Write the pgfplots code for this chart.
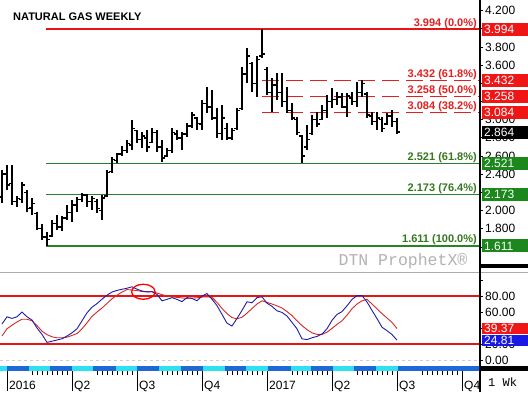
\documentclass[border=0pt]{standalone}
\usepackage{pgfplots}
\pgfplotsset{compat=1.18}
\usepackage{pgfplotstable}
\usepackage{fontspec}
\setmainfont{Liberation Sans}
\newfontfamily\monofont{Liberation Mono}

\definecolor{boxred}{RGB}{240,22,22}
\definecolor{fibred}{RGB}{226,32,32}
\definecolor{linered}{RGB}{232,20,20}
\definecolor{fibgreen}{RGB}{55,120,30}
\definecolor{linegreen}{RGB}{40,130,40}
\definecolor{boxgreen}{RGB}{28,135,28}
\definecolor{stochblue}{RGB}{30,30,165}
\definecolor{stochred}{RGB}{215,40,40}
\definecolor{boxblue}{RGB}{25,25,230}
\definecolor{bandblue}{RGB}{30,105,215}
\definecolor{bandcyan}{RGB}{45,225,240}
\definecolor{wmgray}{RGB}{178,178,178}

\pgfdeclareplotmark{otick}{\pgfpathmoveto{\pgfqpoint{-3pt}{0pt}}\pgfpathlineto{\pgfqpoint{0pt}{0pt}}\pgfusepathqstroke}
\pgfdeclareplotmark{ctick}{\pgfpathmoveto{\pgfqpoint{0pt}{0pt}}\pgfpathlineto{\pgfqpoint{3pt}{0pt}}\pgfusepathqstroke}

\pgfplotstableread{
k O H L C K D
0 2.15 2.446 2.083 2.40 45 30
1 2.40 2.500 2.226 2.28 54 39
2 2.30 2.500 2.061 2.10 52 43.5
3 2.10 2.160 2.039 2.13 54 47.5
4 2.12 2.314 2.083 2.28 60 51
5 2.20 2.226 1.984 2.02 54 51
6 2.03 2.138 1.951 2.08 50 49
7 1.97 1.984 1.786 1.80 40 43
8 1.80 1.852 1.676 1.71 32 36
9 1.71 1.764 1.611 1.68 22 31.8
10 1.72 1.896 1.709 1.86 23.5 29
11 1.86 1.951 1.786 1.82 25 27.8
12 1.82 1.940 1.775 1.92 26.5 27.8
13 1.92 2.061 1.896 1.98 30 28.5
14 1.98 2.116 1.874 2.06 34 30.7
15 2.06 2.149 1.984 2.12 39 33
16 2.12 2.193 2.094 2.17 49 39
17 2.17 2.182 2.039 2.10 59 46.5
18 2.10 2.160 2.006 2.13 66 54.5
19 2.10 2.127 1.973 2.02 70.5 60
20 2.00 2.171 1.896 2.14 76 65
21 2.16 2.446 2.149 2.42 81 70.7
22 2.43 2.589 2.413 2.56 85 76.5
23 2.55 2.633 2.523 2.62 87 81
24 2.62 2.710 2.600 2.66 88.4 85
25 2.66 2.776 2.633 2.74 89.7 88
26 2.72 2.996 2.666 2.90 91.5 87.5
27 2.88 2.886 2.743 2.78 88.5 86.7
28 2.78 2.864 2.688 2.82 86.3 85.6
29 2.80 2.886 2.644 2.70 85 85.4
30 2.75 2.908 2.743 2.86 85.4 85.4
31 2.86 2.886 2.644 2.70 82 83.7
32 2.70 2.776 2.534 2.58 74 81.7
33 2.60 2.688 2.589 2.66 75.8 80
34 2.66 2.908 2.633 2.86 78 79
35 2.84 2.886 2.776 2.80 75.8 78.3
36 2.80 2.864 2.666 2.84 73 77.6
37 2.84 2.963 2.809 2.93 78 77
38 2.93 3.084 2.908 3.05 77 77.4
39 3.02 3.029 2.886 2.96 74 77.8
40 2.95 3.216 2.886 3.18 80 78.6
41 3.18 3.359 3.073 3.14 83 79
42 3.14 3.326 2.996 3.02 76 78.3
43 3.02 3.128 2.798 2.85 68 72
44 2.85 3.161 2.776 3.02 57 64.5
45 2.90 2.963 2.776 2.80 46 58
46 2.80 2.908 2.776 2.88 42.5 53
47 2.90 3.128 2.886 3.10 52 51.5
48 3.12 3.579 3.106 3.50 62 53.5
49 3.50 3.788 3.403 3.70 72.8 58.5
50 3.62 3.634 3.304 3.40 71.5 64.4
51 3.40 3.700 3.249 3.66 78 70
52 3.70 3.994 3.678 3.72 79 74
53 3.55 3.579 3.271 3.30 71 72
54 3.30 3.458 3.084 3.38 67 70
55 3.38 3.513 3.216 3.30 61.5 67.7
56 3.30 3.513 3.139 3.20 59.5 65
57 3.20 3.359 3.073 3.10 55 60.5
58 3.10 3.183 2.996 3.02 47 55.5
59 3.00 3.029 2.831 2.86 39 49
60 2.82 2.831 2.523 2.60 26.5 43
61 2.70 2.941 2.666 2.78 25.5 38
62 2.85 3.051 2.831 3.00 27.8 34
63 3.00 3.084 2.919 2.95 29.5 32
64 3.00 3.161 2.996 3.10 32.5 32
65 3.10 3.271 3.018 3.20 39 34.8
66 3.20 3.348 3.128 3.22 49.6 39.5
67 3.22 3.304 3.161 3.25 57 44.5
68 3.25 3.293 3.128 3.14 60.5 49
69 3.14 3.293 3.029 3.26 67.7 56
70 3.24 3.304 3.161 3.20 75.7 64
71 3.20 3.414 3.139 3.30 80.5 70
72 3.30 3.436 3.249 3.40 80.6 74
73 3.28 3.304 3.018 3.05 72.5 75.8
74 3.04 3.084 2.941 2.98 62 70
75 2.98 3.084 2.886 3.02 51.7 64
76 3.00 3.029 2.864 2.90 41 58
77 2.95 3.073 2.941 3.04 36.6 52.5
78 3.04 3.106 2.919 2.98 31.8 47
79 2.98 3.018 2.842 2.864 24.81 39.37
}\ngdata

\begin{document}
\begin{tikzpicture}[x=1pt,y=1pt]
\useasboundingbox (0,0) rectangle (528,392);
\fill[white] (0,0) rectangle (528,392);

% ---------- price panel ----------
\begin{axis}[at={(0pt,122pt)}, anchor=south west, scale only axis,
  width=480pt, height=270pt,
  xmin=-0.4, xmax=95.6, ymin=1.3460, ymax=4.3163,
  axis x line=none, axis y line*=right,
  y axis line style={-, line width=1.2pt},
  ytick={1.6,1.8,2.0,2.2,2.4,2.6,2.8,3.0,3.2,3.4,3.6,3.8,4.0,4.2},
  yticklabels={{},1.800,2.000,{},2.400,2.600,2.800,3.000,{},{},3.600,3.800,{},4.200},
  tick align=outside, major tick length=3pt,
  tick style={black, line width=0.8pt},
  yticklabel style={font=\fontsize{12}{12}\selectfont, inner xsep=2pt},
  clip=true]
\addplot[linered, line width=1.8pt, forget plot] coordinates {(8.8,3.994) (95.6,3.994)};
\addplot[fibred, line width=1pt, dash pattern=on 17pt off 7pt, forget plot] coordinates {(52,3.432) (95.6,3.432)};
\addplot[fibred, line width=1pt, dash pattern=on 17pt off 7pt, forget plot] coordinates {(52,3.258) (95.6,3.258)};
\addplot[fibred, line width=1pt, dash pattern=on 17pt off 7pt, forget plot] coordinates {(52,3.084) (95.6,3.084)};
\addplot[linegreen, line width=1.2pt, forget plot] coordinates {(8.8,2.521) (95.6,2.521)};
\addplot[linegreen, line width=1.2pt, forget plot] coordinates {(8.8,2.173) (95.6,2.173)};
\addplot[linegreen, line width=1.2pt, forget plot] coordinates {(8.8,1.611) (95.6,1.611)};

\addplot[black, only marks, mark=ctick, mark options={line width=1.5pt},
  error bars/.cd, y dir=both, y explicit, error mark=none,
  error bar style={line width=1.6pt, black}]
  table[x=k, y=C, y error plus expr=\thisrow{H}-\thisrow{C}, y error minus expr=\thisrow{C}-\thisrow{L}] {\ngdata};
\addplot[black, only marks, mark=otick, mark options={line width=1.5pt}] table[x=k, y=O] {\ngdata};

\node[anchor=base east, inner sep=0pt, text=fibred, font=\bfseries\fontsize{11}{11}\selectfont, yshift=3pt] at (axis cs:95,3.994) {3.994 (0.0\%)};
\node[anchor=base east, inner sep=0pt, text=fibred, font=\bfseries\fontsize{11}{11}\selectfont, yshift=3pt] at (axis cs:95,3.432) {3.432 (61.8\%)};
\node[anchor=base east, inner sep=0pt, text=fibred, font=\bfseries\fontsize{11}{11}\selectfont, yshift=3pt] at (axis cs:95,3.258) {3.258 (50.0\%)};
\node[anchor=base east, inner sep=0pt, text=fibred, font=\bfseries\fontsize{11}{11}\selectfont, yshift=3pt] at (axis cs:95,3.084) {3.084 (38.2\%)};
\node[anchor=base east, inner sep=0pt, text=fibgreen, font=\bfseries\fontsize{11}{11}\selectfont, yshift=3pt] at (axis cs:95,2.521) {2.521 (61.8\%)};
\node[anchor=base east, inner sep=0pt, text=fibgreen, font=\bfseries\fontsize{11}{11}\selectfont, yshift=3pt] at (axis cs:95,2.173) {2.173 (76.4\%)};
\node[anchor=base east, inner sep=0pt, text=fibgreen, font=\bfseries\fontsize{11}{11}\selectfont, yshift=3pt] at (axis cs:95,1.611) {1.611 (100.0\%)};

\coordinate (b1) at (axis cs:95.6,3.994);
\coordinate (b2) at (axis cs:95.6,3.432);
\coordinate (b3) at (axis cs:95.6,3.258);
\coordinate (b4) at (axis cs:95.6,3.084);
\coordinate (b5) at (axis cs:95.6,2.864);
\coordinate (b6) at (axis cs:95.6,2.521);
\coordinate (b7) at (axis cs:95.6,2.173);
\coordinate (b8) at (axis cs:95.6,1.611);
\end{axis}

% ---------- stochastic panel ----------
\begin{axis}[at={(0pt,27pt)}, anchor=south west, scale only axis,
  width=480pt, height=92pt,
  xmin=-0.4, xmax=95.6, ymin=-6.25, ymax=108.75,
  axis x line=none, axis y line*=right,
  y axis line style={-, line width=1.2pt},
  ytick={0,20,40,60,80,100},
  yticklabels={0.00,20.00,40.00,60.00,80.00,{}},
  tick align=outside, major tick length=3pt,
  tick style={black, line width=0.8pt},
  yticklabel style={font=\fontsize{12}{12}\selectfont, inner xsep=2pt},
  clip=true]
\addplot[gray!40, dash pattern=on 3pt off 3pt, line width=0.8pt, forget plot] coordinates {(-0.4,0) (95.6,0)};
\addplot[linered, line width=1.4pt, forget plot] coordinates {(-0.4,80) (95.6,80)};
\addplot[linered, line width=1.4pt, forget plot] coordinates {(-0.4,20) (95.6,20)};
\addplot[stochred, line width=0.9pt] table[x=k, y=D] {\ngdata};
\addplot[stochblue, line width=0.9pt] table[x=k, y=K] {\ngdata};
\draw[red, line width=1.3pt] (axis cs:28.26,85.3) ellipse [x radius=11.7pt, y radius=7.5pt];
\coordinate (s1) at (axis cs:95.6,39.37);
\coordinate (s2) at (axis cs:95.6,24.81);
\end{axis}

% ---------- value boxes on the right scale ----------
\foreach \c/\t/\col in {b1/3.994/boxred, b2/3.432/boxred, b3/3.258/boxred, b4/3.084/boxred, b5/2.864/black, b6/2.521/boxgreen, b7/2.173/boxgreen, b8/1.611/boxgreen} {
  \fill[\col] ([shift={(2pt,-6.5pt)}]\c) rectangle ([shift={(50pt,6.5pt)}]\c);
  \node[anchor=west, inner sep=0pt, text=white, font=\fontsize{12}{12}\selectfont] at ([xshift=4pt]\c) {\t};
}
\foreach \c/\t/\col in {s1/39.37/boxred, s2/24.81/boxblue} {
  \fill[\col] ([shift={(2pt,-5.6pt)}]\c) rectangle ([shift={(50pt,5.6pt)}]\c);
  \node[anchor=west, inner sep=0pt, text=white, font=\fontsize{12}{12}\selectfont] at ([xshift=4pt]\c) {\t};
}

% ---------- separators ----------
\fill[black] (480,124) rectangle (528,128);
\draw[gray!65, line width=1.5pt] (0,119.5) -- (528,119.5);

% ---------- time axis ----------
\foreach \a/\b/\col in {0/7/bandcyan, 7/29.1/bandblue, 29.1/49.9/bandcyan, 49.9/72/bandblue, 72/93.4/bandcyan, 93.4/115.6/bandblue, 115.6/137/bandcyan, 137/159.1/bandblue, 159.1/181.3/bandcyan, 181.3/202.7/bandblue, 202.7/224.9/bandcyan, 224.9/246.3/bandblue, 246.3/268.4/bandcyan, 268.4/290.6/bandblue, 290.6/310.6/bandcyan, 310.6/332.7/bandblue, 332.7/354.1/bandcyan, 354.1/376.3/bandblue, 376.3/397.7/bandcyan, 397.7/480/bandblue}
  \fill[\col] (\a,21) rectangle (\b,26);
\fill[black] (480,21) rectangle (528,26);
\foreach \x/\l in {7/2016, 72/Q2, 137/Q3, 202/Q4, 267/2017, 332/Q2, 397/Q3, 462/Q4} {
  \draw[line width=0.8pt] (\x,21) -- (\x,1);
  \node[anchor=base west, inner sep=0pt, font=\fontsize{12}{12}\selectfont] at (\x+2,3) {\l};
}
\foreach \m in {7,72,137,202,267,332,397}
  \foreach \j in {5,...,12}
    \draw[line width=0.7pt] (\m+5*\j,21) -- (\m+5*\j,17);
\node[anchor=base west, inner sep=0pt, font=\monofont\fontsize{12}{12}\selectfont] at (488,6) {1 Wk};

% ---------- texts ----------
\node[anchor=base west, inner sep=0pt, font=\bfseries\fontsize{11}{11}\selectfont] at (13,371) {NATURAL GAS WEEKLY};
\node[anchor=base, inner sep=0pt, text=wmgray, font=\monofont\fontsize{16.5}{16.5}\selectfont] at (403,127) {DTN ProphetX®};

\draw[line width=1.2pt] (480,0) -- (480,392);
\end{tikzpicture}
\end{document}
